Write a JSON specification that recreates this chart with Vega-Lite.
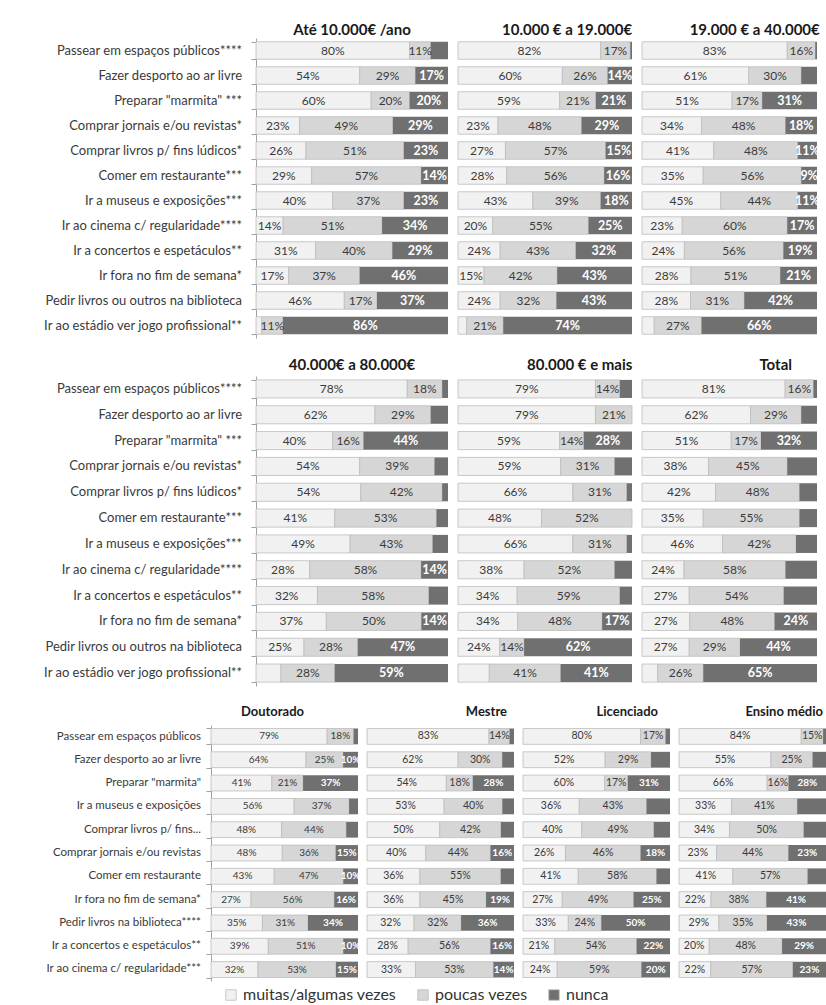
{
"$schema":"https://vega.github.io/schema/vega-lite/v6.json",
"padding":{"left":5,"top":23,"right":0,"bottom":0},
"background":"white",
"config":{"font":"Lato","view":{"stroke":null},"title":{"fontSize":15,"fontWeight":"bold","color":"#1a1a1a","offset":4},"legend":{"layout":{"bottom":{"anchor":"middle"}}}},
"datasets":{
"ct":[{"i":1,"cat":"Passear em espaços públicos****"},{"i":2,"cat":"Fazer desporto ao ar livre"},{"i":3,"cat":"Preparar \"marmita\" ***"},{"i":4,"cat":"Comprar jornais e/ou revistas*"},{"i":5,"cat":"Comprar livros p/ fins lúdicos*"},{"i":6,"cat":"Comer em restaurante***"},{"i":7,"cat":"Ir a museus e exposições***"},{"i":8,"cat":"Ir ao cinema c/ regularidade****"},{"i":9,"cat":"Ir a concertos e espetáculos**"},{"i":10,"cat":"Ir fora no fim de semana*"},{"i":11,"cat":"Pedir livros ou outros na biblioteca"},{"i":12,"cat":"Ir ao estádio ver jogo profissional**"}],
"cb":[{"i":1,"cat":"Passear em espaços públicos"},{"i":2,"cat":"Fazer desporto ao ar livre"},{"i":3,"cat":"Preparar \"marmita\""},{"i":4,"cat":"Ir a museus e exposições"},{"i":5,"cat":"Comprar livros p/ fins..."},{"i":6,"cat":"Comprar jornais e/ou revistas"},{"i":7,"cat":"Comer em restaurante"},{"i":8,"cat":"Ir fora no fim de semana*"},{"i":9,"cat":"Pedir livros na biblioteca****"},{"i":10,"cat":"Ir a concertos e espetáculos**"},{"i":11,"cat":"Ir ao cinema c/ regularidade***"}],
"top":[
{"p":"A","i":1,"a":80,"b":11,"c":9,"h":"c"},{"p":"A","i":2,"a":54,"b":29,"c":17},{"p":"A","i":3,"a":60,"b":20,"c":20},{"p":"A","i":4,"a":23,"b":49,"c":29},{"p":"A","i":5,"a":26,"b":51,"c":23},{"p":"A","i":6,"a":29,"b":57,"c":14},{"p":"A","i":7,"a":40,"b":37,"c":23},{"p":"A","i":8,"a":14,"b":51,"c":34},{"p":"A","i":9,"a":31,"b":40,"c":29},{"p":"A","i":10,"a":17,"b":37,"c":46},{"p":"A","i":11,"a":46,"b":17,"c":37},{"p":"A","i":12,"a":3,"b":11,"c":86,"h":"a"},
{"p":"B","i":1,"a":82,"b":17,"c":1,"h":"c"},{"p":"B","i":2,"a":60,"b":26,"c":14},{"p":"B","i":3,"a":59,"b":21,"c":21},{"p":"B","i":4,"a":23,"b":48,"c":29},{"p":"B","i":5,"a":27,"b":57,"c":15},{"p":"B","i":6,"a":28,"b":56,"c":16},{"p":"B","i":7,"a":43,"b":39,"c":18},{"p":"B","i":8,"a":20,"b":55,"c":25},{"p":"B","i":9,"a":24,"b":43,"c":32},{"p":"B","i":10,"a":15,"b":42,"c":43},{"p":"B","i":11,"a":24,"b":32,"c":43},{"p":"B","i":12,"a":5,"b":21,"c":74,"h":"a"},
{"p":"C","i":1,"a":83,"b":16,"c":1,"h":"c"},{"p":"C","i":2,"a":61,"b":30,"c":9,"h":"c"},{"p":"C","i":3,"a":51,"b":17,"c":31},{"p":"C","i":4,"a":34,"b":48,"c":18},{"p":"C","i":5,"a":41,"b":48,"c":11},{"p":"C","i":6,"a":35,"b":56,"c":9},{"p":"C","i":7,"a":45,"b":44,"c":11},{"p":"C","i":8,"a":23,"b":60,"c":17},{"p":"C","i":9,"a":24,"b":56,"c":19},{"p":"C","i":10,"a":28,"b":51,"c":21},{"p":"C","i":11,"a":28,"b":31,"c":42},{"p":"C","i":12,"a":7,"b":27,"c":66,"h":"a"},
{"p":"D","i":1,"a":78,"b":18,"c":3,"h":"c"},{"p":"D","i":2,"a":62,"b":29,"c":9,"h":"c"},{"p":"D","i":3,"a":40,"b":16,"c":44},{"p":"D","i":4,"a":54,"b":39,"c":7,"h":"c"},{"p":"D","i":5,"a":54,"b":42,"c":3,"h":"c"},{"p":"D","i":6,"a":41,"b":53,"c":6,"h":"c"},{"p":"D","i":7,"a":49,"b":43,"c":8,"h":"c"},{"p":"D","i":8,"a":28,"b":58,"c":14},{"p":"D","i":9,"a":32,"b":58,"c":10,"h":"c"},{"p":"D","i":10,"a":37,"b":50,"c":14},{"p":"D","i":11,"a":25,"b":28,"c":47},{"p":"D","i":12,"a":13,"b":28,"c":59,"h":"a"},
{"p":"E","i":1,"a":79,"b":14,"c":7,"h":"c"},{"p":"E","i":2,"a":79,"b":21,"c":0,"h":"c"},{"p":"E","i":3,"a":59,"b":14,"c":28},{"p":"E","i":4,"a":59,"b":31,"c":10,"h":"c"},{"p":"E","i":5,"a":66,"b":31,"c":3,"h":"c"},{"p":"E","i":6,"a":48,"b":52,"c":0,"h":"c"},{"p":"E","i":7,"a":66,"b":31,"c":3,"h":"c"},{"p":"E","i":8,"a":38,"b":52,"c":10,"h":"c"},{"p":"E","i":9,"a":34,"b":59,"c":7,"h":"c"},{"p":"E","i":10,"a":34,"b":48,"c":17},{"p":"E","i":11,"a":24,"b":14,"c":62},{"p":"E","i":12,"a":18,"b":41,"c":41,"h":"a"},
{"p":"F","i":1,"a":81,"b":16,"c":2,"h":"c"},{"p":"F","i":2,"a":62,"b":29,"c":9,"h":"c"},{"p":"F","i":3,"a":51,"b":17,"c":32},{"p":"F","i":4,"a":38,"b":45,"c":17,"h":"c"},{"p":"F","i":5,"a":42,"b":48,"c":10,"h":"c"},{"p":"F","i":6,"a":35,"b":55,"c":10,"h":"c"},{"p":"F","i":7,"a":46,"b":42,"c":12,"h":"c"},{"p":"F","i":8,"a":24,"b":58,"c":18,"h":"c"},{"p":"F","i":9,"a":27,"b":54,"c":19,"h":"c"},{"p":"F","i":10,"a":27,"b":48,"c":24},{"p":"F","i":11,"a":27,"b":29,"c":44},{"p":"F","i":12,"a":9,"b":26,"c":65,"h":"a"}
],
"bot":[
{"p":"G","i":1,"a":79,"b":18,"c":3,"h":"c"},{"p":"G","i":2,"a":64,"b":25,"c":10},{"p":"G","i":3,"a":41,"b":21,"c":37},{"p":"G","i":4,"a":56,"b":37,"c":6,"h":"c"},{"p":"G","i":5,"a":48,"b":44,"c":8,"h":"c"},{"p":"G","i":6,"a":48,"b":36,"c":15},{"p":"G","i":7,"a":43,"b":47,"c":10},{"p":"G","i":8,"a":27,"b":56,"c":16},{"p":"G","i":9,"a":35,"b":31,"c":34},{"p":"G","i":10,"a":39,"b":51,"c":10},{"p":"G","i":11,"a":32,"b":53,"c":15},
{"p":"H","i":1,"a":83,"b":14,"c":3,"h":"c"},{"p":"H","i":2,"a":62,"b":30,"c":8,"h":"c"},{"p":"H","i":3,"a":54,"b":18,"c":28},{"p":"H","i":4,"a":53,"b":40,"c":8,"h":"c"},{"p":"H","i":5,"a":50,"b":42,"c":9,"h":"c"},{"p":"H","i":6,"a":40,"b":44,"c":16},{"p":"H","i":7,"a":36,"b":55,"c":9,"h":"c"},{"p":"H","i":8,"a":36,"b":45,"c":19},{"p":"H","i":9,"a":32,"b":32,"c":36},{"p":"H","i":10,"a":28,"b":56,"c":16},{"p":"H","i":11,"a":33,"b":53,"c":14},
{"p":"I","i":1,"a":80,"b":17,"c":3,"h":"c"},{"p":"I","i":2,"a":52,"b":29,"c":12,"h":"c"},{"p":"I","i":3,"a":60,"b":17,"c":31},{"p":"I","i":4,"a":36,"b":43,"c":15,"h":"c"},{"p":"I","i":5,"a":40,"b":49,"c":11,"h":"c"},{"p":"I","i":6,"a":26,"b":46,"c":18},{"p":"I","i":7,"a":41,"b":58,"c":10,"h":"c"},{"p":"I","i":8,"a":27,"b":49,"c":25},{"p":"I","i":9,"a":33,"b":24,"c":50},{"p":"I","i":10,"a":21,"b":54,"c":22},{"p":"I","i":11,"a":24,"b":59,"c":20},
{"p":"J","i":1,"a":84,"b":15,"c":2,"h":"c"},{"p":"J","i":2,"a":55,"b":25,"c":8,"h":"c"},{"p":"J","i":3,"a":66,"b":16,"c":28},{"p":"J","i":4,"a":33,"b":41,"c":18,"h":"c"},{"p":"J","i":5,"a":34,"b":50,"c":15,"h":"c"},{"p":"J","i":6,"a":23,"b":44,"c":23},{"p":"J","i":7,"a":41,"b":57,"c":14,"h":"c"},{"p":"J","i":8,"a":22,"b":38,"c":41},{"p":"J","i":9,"a":29,"b":35,"c":43},{"p":"J","i":10,"a":20,"b":48,"c":29},{"p":"J","i":11,"a":22,"b":57,"c":23}
]
},
"columns":1,"align":"none","spacing":20,
"concat":[
{"hconcat":[
{"width":241,"height":300,"data":{"name":"ct"},"mark":{"type":"text","align":"right","fontSize":13,"color":"#3a3a3a","dx":-4},"encoding":{"y":{"field":"cat","type":"nominal","sort":{"field":"i","op":"min"},"scale":{"paddingInner":0.3,"paddingOuter":0.15},"axis":null},"x":{"value":"width"},"text":{"field":"cat"}}},
{"width":192,"height":300,"title":{"text":"Até 10.000€ /ano","anchor":"middle","offset":0},"data":{"name":"top"},
"transform":[{"filter":"datum.p==='A'"},{"fold":["a","b","c"],"as":["r","v"]},{"stack":"v","groupby":["i"],"sort":[{"field":"r","order":"ascending"}],"offset":"normalize","as":["x0","x1"]},{"calculate":"(datum.x0+datum.x1)/2","as":"xm"},{"calculate":"datum.v+'%'","as":"lbl"}],
"encoding":{"y":{"field":"i","type":"ordinal","scale":{"paddingInner":0.3,"paddingOuter":0.15},"axis":{"title":null,"labels":false,"tickBand":"extent","tickSize":5,"tickColor":"#a0a0a0","domainColor":"#a0a0a0"}},"color":{"field":"r","type":"nominal","scale":{"domain":["a","b","c"],"range":["#f1f1f1","#d6d6d6","#707070"]},"legend":{"orient":"bottom","direction":"horizontal","title":null,"offset":6,"symbolType":"square","symbolSize":110,"symbolStrokeColor":"#bdbdbd","symbolStrokeWidth":0.8,"labelFontSize":16,"labelColor":"#333","columnPadding":18,"labelOffset":4,"labelExpr":"datum.value==='a'?'muitas/algumas vezes':datum.value==='b'?'poucas vezes':'nunca'"}}},
"layer":[
{"transform":[{"filter":"datum.r!=='c'"}],"mark":{"type":"bar","stroke":"#bdbdbd","strokeWidth":0.8},"encoding":{"x":{"field":"x0","type":"quantitative","scale":{"domain":[0,1]},"axis":null},"x2":{"field":"x1"}}},
{"transform":[{"filter":"datum.r==='c'"}],"mark":{"type":"bar"},"encoding":{"x":{"field":"x0","type":"quantitative","scale":{"domain":[0,1]},"axis":null},"x2":{"field":"x1"}}},
{"transform":[{"filter":"datum.r!=='c' && indexof(datum.h||'',datum.r)<0"}],"mark":{"type":"text","fontSize":12},"encoding":{"x":{"field":"xm","type":"quantitative"},"text":{"field":"lbl"},"color":{"value":"#3a3a3a"}}},
{"transform":[{"filter":"datum.r==='c' && indexof(datum.h||'',datum.r)<0"}],"mark":{"type":"text","fontSize":12.5,"fontWeight":"bold"},"encoding":{"x":{"field":"xm","type":"quantitative"},"text":{"field":"lbl"},"color":{"value":"white"}}}
]},
{"width":174,"height":300,"title":{"text":"10.000 € a 19.000€","anchor":"end","offset":0},"data":{"name":"top"},
"transform":[{"filter":"datum.p==='B'"},{"fold":["a","b","c"],"as":["r","v"]},{"stack":"v","groupby":["i"],"sort":[{"field":"r","order":"ascending"}],"offset":"normalize","as":["x0","x1"]},{"calculate":"(datum.x0+datum.x1)/2","as":"xm"},{"calculate":"datum.v+'%'","as":"lbl"}],
"encoding":{"y":{"field":"i","type":"ordinal","scale":{"paddingInner":0.3,"paddingOuter":0.15},"axis":null},"color":{"field":"r","type":"nominal","scale":{"domain":["a","b","c"],"range":["#f1f1f1","#d6d6d6","#707070"]},"legend":{"orient":"bottom","direction":"horizontal","title":null,"offset":6,"symbolType":"square","symbolSize":110,"symbolStrokeColor":"#bdbdbd","symbolStrokeWidth":0.8,"labelFontSize":16,"labelColor":"#333","columnPadding":18,"labelOffset":4,"labelExpr":"datum.value==='a'?'muitas/algumas vezes':datum.value==='b'?'poucas vezes':'nunca'"}}},
"layer":[
{"transform":[{"filter":"datum.r!=='c'"}],"mark":{"type":"bar","stroke":"#bdbdbd","strokeWidth":0.8},"encoding":{"x":{"field":"x0","type":"quantitative","scale":{"domain":[0,1]},"axis":null},"x2":{"field":"x1"}}},
{"transform":[{"filter":"datum.r==='c'"}],"mark":{"type":"bar"},"encoding":{"x":{"field":"x0","type":"quantitative","scale":{"domain":[0,1]},"axis":null},"x2":{"field":"x1"}}},
{"transform":[{"filter":"datum.r!=='c' && indexof(datum.h||'',datum.r)<0"}],"mark":{"type":"text","fontSize":12},"encoding":{"x":{"field":"xm","type":"quantitative"},"text":{"field":"lbl"},"color":{"value":"#3a3a3a"}}},
{"transform":[{"filter":"datum.r==='c' && indexof(datum.h||'',datum.r)<0"}],"mark":{"type":"text","fontSize":12.5,"fontWeight":"bold"},"encoding":{"x":{"field":"xm","type":"quantitative"},"text":{"field":"lbl"},"color":{"value":"white"}}}
]},
{"width":175,"height":300,"title":{"text":"19.000 € a 40.000€","anchor":"end","offset":0},"data":{"name":"top"},
"transform":[{"filter":"datum.p==='C'"},{"fold":["a","b","c"],"as":["r","v"]},{"stack":"v","groupby":["i"],"sort":[{"field":"r","order":"ascending"}],"offset":"normalize","as":["x0","x1"]},{"calculate":"(datum.x0+datum.x1)/2","as":"xm"},{"calculate":"datum.v+'%'","as":"lbl"}],
"encoding":{"y":{"field":"i","type":"ordinal","scale":{"paddingInner":0.3,"paddingOuter":0.15},"axis":null},"color":{"field":"r","type":"nominal","scale":{"domain":["a","b","c"],"range":["#f1f1f1","#d6d6d6","#707070"]},"legend":{"orient":"bottom","direction":"horizontal","title":null,"offset":6,"symbolType":"square","symbolSize":110,"symbolStrokeColor":"#bdbdbd","symbolStrokeWidth":0.8,"labelFontSize":16,"labelColor":"#333","columnPadding":18,"labelOffset":4,"labelExpr":"datum.value==='a'?'muitas/algumas vezes':datum.value==='b'?'poucas vezes':'nunca'"}}},
"layer":[
{"transform":[{"filter":"datum.r!=='c'"}],"mark":{"type":"bar","stroke":"#bdbdbd","strokeWidth":0.8},"encoding":{"x":{"field":"x0","type":"quantitative","scale":{"domain":[0,1]},"axis":null},"x2":{"field":"x1"}}},
{"transform":[{"filter":"datum.r==='c'"}],"mark":{"type":"bar"},"encoding":{"x":{"field":"x0","type":"quantitative","scale":{"domain":[0,1]},"axis":null},"x2":{"field":"x1"}}},
{"transform":[{"filter":"datum.r!=='c' && indexof(datum.h||'',datum.r)<0"}],"mark":{"type":"text","fontSize":12},"encoding":{"x":{"field":"xm","type":"quantitative"},"text":{"field":"lbl"},"color":{"value":"#3a3a3a"}}},
{"transform":[{"filter":"datum.r==='c' && indexof(datum.h||'',datum.r)<0"}],"mark":{"type":"text","fontSize":12.5,"fontWeight":"bold"},"encoding":{"x":{"field":"xm","type":"quantitative"},"text":{"field":"lbl"},"color":{"value":"white"}}}
]}
],"spacing":10,"bounds":"flush"},
{"hconcat":[
{"width":241,"height":310,"data":{"name":"ct"},"mark":{"type":"text","align":"right","fontSize":13,"color":"#3a3a3a","dx":-4},"encoding":{"y":{"field":"cat","type":"nominal","sort":{"field":"i","op":"min"},"scale":{"paddingInner":0.3,"paddingOuter":0.15},"axis":null},"x":{"value":"width"},"text":{"field":"cat"}}},
{"width":192,"height":310,"title":{"text":"40.000€ a 80.000€","anchor":"middle","offset":3},"data":{"name":"top"},
"transform":[{"filter":"datum.p==='D'"},{"fold":["a","b","c"],"as":["r","v"]},{"stack":"v","groupby":["i"],"sort":[{"field":"r","order":"ascending"}],"offset":"normalize","as":["x0","x1"]},{"calculate":"(datum.x0+datum.x1)/2","as":"xm"},{"calculate":"datum.v+'%'","as":"lbl"}],
"encoding":{"y":{"field":"i","type":"ordinal","scale":{"paddingInner":0.3,"paddingOuter":0.15},"axis":{"title":null,"labels":false,"tickBand":"extent","tickSize":5,"tickColor":"#a0a0a0","domainColor":"#a0a0a0"}},"color":{"field":"r","type":"nominal","scale":{"domain":["a","b","c"],"range":["#f1f1f1","#d6d6d6","#707070"]},"legend":{"orient":"bottom","direction":"horizontal","title":null,"offset":6,"symbolType":"square","symbolSize":110,"symbolStrokeColor":"#bdbdbd","symbolStrokeWidth":0.8,"labelFontSize":16,"labelColor":"#333","columnPadding":18,"labelOffset":4,"labelExpr":"datum.value==='a'?'muitas/algumas vezes':datum.value==='b'?'poucas vezes':'nunca'"}}},
"layer":[
{"transform":[{"filter":"datum.r!=='c'"}],"mark":{"type":"bar","stroke":"#bdbdbd","strokeWidth":0.8},"encoding":{"x":{"field":"x0","type":"quantitative","scale":{"domain":[0,1]},"axis":null},"x2":{"field":"x1"}}},
{"transform":[{"filter":"datum.r==='c'"}],"mark":{"type":"bar"},"encoding":{"x":{"field":"x0","type":"quantitative","scale":{"domain":[0,1]},"axis":null},"x2":{"field":"x1"}}},
{"transform":[{"filter":"datum.r!=='c' && indexof(datum.h||'',datum.r)<0"}],"mark":{"type":"text","fontSize":12},"encoding":{"x":{"field":"xm","type":"quantitative"},"text":{"field":"lbl"},"color":{"value":"#3a3a3a"}}},
{"transform":[{"filter":"datum.r==='c' && indexof(datum.h||'',datum.r)<0"}],"mark":{"type":"text","fontSize":12.5,"fontWeight":"bold"},"encoding":{"x":{"field":"xm","type":"quantitative"},"text":{"field":"lbl"},"color":{"value":"white"}}}
]},
{"width":174,"height":310,"title":{"text":"80.000 € e mais","anchor":"end","offset":3},"data":{"name":"top"},
"transform":[{"filter":"datum.p==='E'"},{"fold":["a","b","c"],"as":["r","v"]},{"stack":"v","groupby":["i"],"sort":[{"field":"r","order":"ascending"}],"offset":"normalize","as":["x0","x1"]},{"calculate":"(datum.x0+datum.x1)/2","as":"xm"},{"calculate":"datum.v+'%'","as":"lbl"}],
"encoding":{"y":{"field":"i","type":"ordinal","scale":{"paddingInner":0.3,"paddingOuter":0.15},"axis":null},"color":{"field":"r","type":"nominal","scale":{"domain":["a","b","c"],"range":["#f1f1f1","#d6d6d6","#707070"]},"legend":{"orient":"bottom","direction":"horizontal","title":null,"offset":6,"symbolType":"square","symbolSize":110,"symbolStrokeColor":"#bdbdbd","symbolStrokeWidth":0.8,"labelFontSize":16,"labelColor":"#333","columnPadding":18,"labelOffset":4,"labelExpr":"datum.value==='a'?'muitas/algumas vezes':datum.value==='b'?'poucas vezes':'nunca'"}}},
"layer":[
{"transform":[{"filter":"datum.r!=='c'"}],"mark":{"type":"bar","stroke":"#bdbdbd","strokeWidth":0.8},"encoding":{"x":{"field":"x0","type":"quantitative","scale":{"domain":[0,1]},"axis":null},"x2":{"field":"x1"}}},
{"transform":[{"filter":"datum.r==='c'"}],"mark":{"type":"bar"},"encoding":{"x":{"field":"x0","type":"quantitative","scale":{"domain":[0,1]},"axis":null},"x2":{"field":"x1"}}},
{"transform":[{"filter":"datum.r!=='c' && indexof(datum.h||'',datum.r)<0"}],"mark":{"type":"text","fontSize":12},"encoding":{"x":{"field":"xm","type":"quantitative"},"text":{"field":"lbl"},"color":{"value":"#3a3a3a"}}},
{"transform":[{"filter":"datum.r==='c' && indexof(datum.h||'',datum.r)<0"}],"mark":{"type":"text","fontSize":12.5,"fontWeight":"bold"},"encoding":{"x":{"field":"xm","type":"quantitative"},"text":{"field":"lbl"},"color":{"value":"white"}}}
]},
{"width":175,"height":310,"title":{"text":"Total","anchor":"end","offset":3,"dx":-25},"data":{"name":"top"},
"transform":[{"filter":"datum.p==='F'"},{"fold":["a","b","c"],"as":["r","v"]},{"stack":"v","groupby":["i"],"sort":[{"field":"r","order":"ascending"}],"offset":"normalize","as":["x0","x1"]},{"calculate":"(datum.x0+datum.x1)/2","as":"xm"},{"calculate":"datum.v+'%'","as":"lbl"}],
"encoding":{"y":{"field":"i","type":"ordinal","scale":{"paddingInner":0.3,"paddingOuter":0.15},"axis":null},"color":{"field":"r","type":"nominal","scale":{"domain":["a","b","c"],"range":["#f1f1f1","#d6d6d6","#707070"]},"legend":{"orient":"bottom","direction":"horizontal","title":null,"offset":6,"symbolType":"square","symbolSize":110,"symbolStrokeColor":"#bdbdbd","symbolStrokeWidth":0.8,"labelFontSize":16,"labelColor":"#333","columnPadding":18,"labelOffset":4,"labelExpr":"datum.value==='a'?'muitas/algumas vezes':datum.value==='b'?'poucas vezes':'nunca'"}}},
"layer":[
{"transform":[{"filter":"datum.r!=='c'"}],"mark":{"type":"bar","stroke":"#bdbdbd","strokeWidth":0.8},"encoding":{"x":{"field":"x0","type":"quantitative","scale":{"domain":[0,1]},"axis":null},"x2":{"field":"x1"}}},
{"transform":[{"filter":"datum.r==='c'"}],"mark":{"type":"bar"},"encoding":{"x":{"field":"x0","type":"quantitative","scale":{"domain":[0,1]},"axis":null},"x2":{"field":"x1"}}},
{"transform":[{"filter":"datum.r!=='c' && indexof(datum.h||'',datum.r)<0"}],"mark":{"type":"text","fontSize":12},"encoding":{"x":{"field":"xm","type":"quantitative"},"text":{"field":"lbl"},"color":{"value":"#3a3a3a"}}},
{"transform":[{"filter":"datum.r==='c' && indexof(datum.h||'',datum.r)<0"}],"mark":{"type":"text","fontSize":12.5,"fontWeight":"bold"},"encoding":{"x":{"field":"xm","type":"quantitative"},"text":{"field":"lbl"},"color":{"value":"white"}}}
]}
],"spacing":10,"bounds":"flush"},
{"hconcat":[
{"width":197,"height":256,"data":{"name":"cb"},"mark":{"type":"text","align":"right","fontSize":11.5,"color":"#3a3a3a","dx":-1},"encoding":{"y":{"field":"cat","type":"nominal","sort":{"field":"i","op":"min"},"scale":{"paddingInner":0.32,"paddingOuter":0.15},"axis":null},"x":{"value":"width"},"text":{"field":"cat"}}},
{"width":147,"height":256,"title":{"text":"Doutorado","anchor":"middle","fontSize":13,"offset":6,"dx":-12},"data":{"name":"bot"},
"transform":[{"filter":"datum.p==='G'"},{"fold":["a","b","c"],"as":["r","v"]},{"stack":"v","groupby":["i"],"sort":[{"field":"r","order":"ascending"}],"offset":"normalize","as":["x0","x1"]},{"calculate":"(datum.x0+datum.x1)/2","as":"xm"},{"calculate":"datum.v+'%'","as":"lbl"}],
"encoding":{"y":{"field":"i","type":"ordinal","scale":{"paddingInner":0.32,"paddingOuter":0.15},"axis":{"title":null,"labels":false,"tickBand":"extent","tickSize":5,"tickColor":"#a0a0a0","domainColor":"#a0a0a0"}},"color":{"field":"r","type":"nominal","scale":{"domain":["a","b","c"],"range":["#f1f1f1","#d6d6d6","#707070"]},"legend":{"orient":"bottom","direction":"horizontal","title":null,"offset":6,"symbolType":"square","symbolSize":110,"symbolStrokeColor":"#bdbdbd","symbolStrokeWidth":0.8,"labelFontSize":16,"labelColor":"#333","columnPadding":18,"labelOffset":4,"labelExpr":"datum.value==='a'?'muitas/algumas vezes':datum.value==='b'?'poucas vezes':'nunca'"}}},
"layer":[
{"transform":[{"filter":"datum.r!=='c'"}],"mark":{"type":"bar","stroke":"#bdbdbd","strokeWidth":0.8},"encoding":{"x":{"field":"x0","type":"quantitative","scale":{"domain":[0,1]},"axis":null},"x2":{"field":"x1"}}},
{"transform":[{"filter":"datum.r==='c'"}],"mark":{"type":"bar"},"encoding":{"x":{"field":"x0","type":"quantitative","scale":{"domain":[0,1]},"axis":null},"x2":{"field":"x1"}}},
{"transform":[{"filter":"datum.r!=='c' && indexof(datum.h||'',datum.r)<0"}],"mark":{"type":"text","fontSize":10},"encoding":{"x":{"field":"xm","type":"quantitative"},"text":{"field":"lbl"},"color":{"value":"#3a3a3a"}}},
{"transform":[{"filter":"datum.r==='c' && indexof(datum.h||'',datum.r)<0"}],"mark":{"type":"text","fontSize":10,"fontWeight":"bold"},"encoding":{"x":{"field":"xm","type":"quantitative"},"text":{"field":"lbl"},"color":{"value":"white"}}}
]},
{"width":147,"height":256,"title":{"text":"Mestre","anchor":"end","fontSize":13,"offset":6,"dx":-7},"data":{"name":"bot"},
"transform":[{"filter":"datum.p==='H'"},{"fold":["a","b","c"],"as":["r","v"]},{"stack":"v","groupby":["i"],"sort":[{"field":"r","order":"ascending"}],"offset":"normalize","as":["x0","x1"]},{"calculate":"(datum.x0+datum.x1)/2","as":"xm"},{"calculate":"datum.v+'%'","as":"lbl"}],
"encoding":{"y":{"field":"i","type":"ordinal","scale":{"paddingInner":0.32,"paddingOuter":0.15},"axis":null},"color":{"field":"r","type":"nominal","scale":{"domain":["a","b","c"],"range":["#f1f1f1","#d6d6d6","#707070"]},"legend":{"orient":"bottom","direction":"horizontal","title":null,"offset":6,"symbolType":"square","symbolSize":110,"symbolStrokeColor":"#bdbdbd","symbolStrokeWidth":0.8,"labelFontSize":16,"labelColor":"#333","columnPadding":18,"labelOffset":4,"labelExpr":"datum.value==='a'?'muitas/algumas vezes':datum.value==='b'?'poucas vezes':'nunca'"}}},
"layer":[
{"transform":[{"filter":"datum.r!=='c'"}],"mark":{"type":"bar","stroke":"#bdbdbd","strokeWidth":0.8},"encoding":{"x":{"field":"x0","type":"quantitative","scale":{"domain":[0,1]},"axis":null},"x2":{"field":"x1"}}},
{"transform":[{"filter":"datum.r==='c'"}],"mark":{"type":"bar"},"encoding":{"x":{"field":"x0","type":"quantitative","scale":{"domain":[0,1]},"axis":null},"x2":{"field":"x1"}}},
{"transform":[{"filter":"datum.r!=='c' && indexof(datum.h||'',datum.r)<0"}],"mark":{"type":"text","fontSize":10.5},"encoding":{"x":{"field":"xm","type":"quantitative"},"text":{"field":"lbl"},"color":{"value":"#3a3a3a"}}},
{"transform":[{"filter":"datum.r==='c' && indexof(datum.h||'',datum.r)<0"}],"mark":{"type":"text","fontSize":10,"fontWeight":"bold"},"encoding":{"x":{"field":"xm","type":"quantitative"},"text":{"field":"lbl"},"color":{"value":"white"}}}
]},
{"width":147,"height":256,"title":{"text":"Licenciado","anchor":"end","fontSize":13,"offset":6,"dx":-12},"data":{"name":"bot"},
"transform":[{"filter":"datum.p==='I'"},{"fold":["a","b","c"],"as":["r","v"]},{"stack":"v","groupby":["i"],"sort":[{"field":"r","order":"ascending"}],"offset":"normalize","as":["x0","x1"]},{"calculate":"(datum.x0+datum.x1)/2","as":"xm"},{"calculate":"datum.v+'%'","as":"lbl"}],
"encoding":{"y":{"field":"i","type":"ordinal","scale":{"paddingInner":0.32,"paddingOuter":0.15},"axis":null},"color":{"field":"r","type":"nominal","scale":{"domain":["a","b","c"],"range":["#f1f1f1","#d6d6d6","#707070"]},"legend":{"orient":"bottom","direction":"horizontal","title":null,"offset":6,"symbolType":"square","symbolSize":110,"symbolStrokeColor":"#bdbdbd","symbolStrokeWidth":0.8,"labelFontSize":16,"labelColor":"#333","columnPadding":18,"labelOffset":4,"labelExpr":"datum.value==='a'?'muitas/algumas vezes':datum.value==='b'?'poucas vezes':'nunca'"}}},
"layer":[
{"transform":[{"filter":"datum.r!=='c'"}],"mark":{"type":"bar","stroke":"#bdbdbd","strokeWidth":0.8},"encoding":{"x":{"field":"x0","type":"quantitative","scale":{"domain":[0,1]},"axis":null},"x2":{"field":"x1"}}},
{"transform":[{"filter":"datum.r==='c'"}],"mark":{"type":"bar"},"encoding":{"x":{"field":"x0","type":"quantitative","scale":{"domain":[0,1]},"axis":null},"x2":{"field":"x1"}}},
{"transform":[{"filter":"datum.r!=='c' && indexof(datum.h||'',datum.r)<0"}],"mark":{"type":"text","fontSize":10.5},"encoding":{"x":{"field":"xm","type":"quantitative"},"text":{"field":"lbl"},"color":{"value":"#3a3a3a"}}},
{"transform":[{"filter":"datum.r==='c' && indexof(datum.h||'',datum.r)<0"}],"mark":{"type":"text","fontSize":10,"fontWeight":"bold"},"encoding":{"x":{"field":"xm","type":"quantitative"},"text":{"field":"lbl"},"color":{"value":"white"}}}
]},
{"width":147,"height":256,"title":{"text":"Ensino médio","anchor":"end","fontSize":13,"offset":6,"dx":-3},"data":{"name":"bot"},
"transform":[{"filter":"datum.p==='J'"},{"fold":["a","b","c"],"as":["r","v"]},{"stack":"v","groupby":["i"],"sort":[{"field":"r","order":"ascending"}],"offset":"normalize","as":["x0","x1"]},{"calculate":"(datum.x0+datum.x1)/2","as":"xm"},{"calculate":"datum.v+'%'","as":"lbl"}],
"encoding":{"y":{"field":"i","type":"ordinal","scale":{"paddingInner":0.32,"paddingOuter":0.15},"axis":null},"color":{"field":"r","type":"nominal","scale":{"domain":["a","b","c"],"range":["#f1f1f1","#d6d6d6","#707070"]},"legend":{"orient":"bottom","direction":"horizontal","title":null,"offset":6,"symbolType":"square","symbolSize":110,"symbolStrokeColor":"#bdbdbd","symbolStrokeWidth":0.8,"labelFontSize":16,"labelColor":"#333","columnPadding":18,"labelOffset":4,"labelExpr":"datum.value==='a'?'muitas/algumas vezes':datum.value==='b'?'poucas vezes':'nunca'"}}},
"layer":[
{"transform":[{"filter":"datum.r!=='c'"}],"mark":{"type":"bar","stroke":"#bdbdbd","strokeWidth":0.8},"encoding":{"x":{"field":"x0","type":"quantitative","scale":{"domain":[0,1]},"axis":null},"x2":{"field":"x1"}}},
{"transform":[{"filter":"datum.r==='c'"}],"mark":{"type":"bar"},"encoding":{"x":{"field":"x0","type":"quantitative","scale":{"domain":[0,1]},"axis":null},"x2":{"field":"x1"}}},
{"transform":[{"filter":"datum.r!=='c' && indexof(datum.h||'',datum.r)<0"}],"mark":{"type":"text","fontSize":10.5},"encoding":{"x":{"field":"xm","type":"quantitative"},"text":{"field":"lbl"},"color":{"value":"#3a3a3a"}}},
{"transform":[{"filter":"datum.r==='c' && indexof(datum.h||'',datum.r)<0"}],"mark":{"type":"text","fontSize":10,"fontWeight":"bold"},"encoding":{"x":{"field":"xm","type":"quantitative"},"text":{"field":"lbl"},"color":{"value":"white"}}}
]}
],"spacing":9,"bounds":"flush"}
]
}
